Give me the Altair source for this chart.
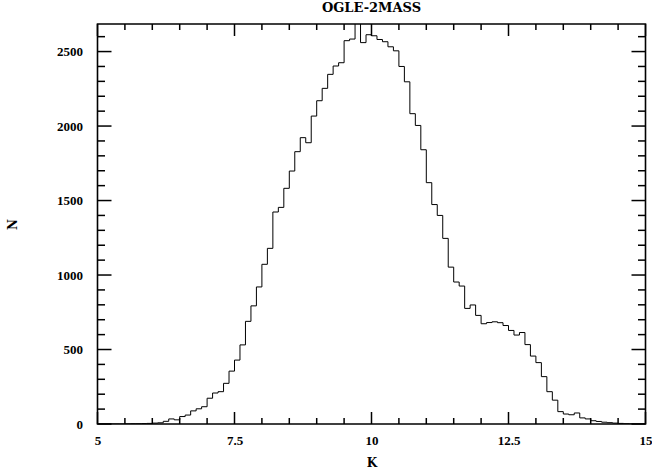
import altair as alt
import pandas as pd

# ---- data -------------------------------------------------------------
# histogram of K magnitudes, bins 0.1 mag wide from 5.0 to 15.0
bin_left = [round(5.0 + 0.1 * i, 1) for i in range(100)]
counts = [
    0, 0, 0, 0, 0, 1, 2, 2, 3, 4,                      # 5.0 - 5.9
    6, 8, 18, 34, 28, 50, 60, 88, 102, 116,            # 6.0 - 6.9
    173, 208, 217, 273, 355, 429, 531, 689, 793, 920,  # 7.0 - 7.9
    1072, 1179, 1423, 1454, 1582, 1698, 1828, 1922, 1888, 2067,  # 8.0 - 8.9
    2170, 2253, 2347, 2403, 2425, 2573, 2584, 2720, 2560, 2613,  # 9.0 - 9.9
    2606, 2581, 2566, 2532, 2505, 2400, 2297, 2083, 2004, 1841,  # 10.0 - 10.9
    1620, 1473, 1400, 1246, 1053, 953, 926, 776, 799, 729,       # 11.0 - 11.9
    673, 681, 686, 680, 661, 628, 597, 614, 533, 456,            # 12.0 - 12.9
    412, 318, 217, 160, 83, 67, 62, 74, 41, 34,                  # 13.0 - 13.9
    22, 17, 12, 9, 6, 4, 2, 1, 0, 0,                             # 14.0 - 14.9
]
x_edge_end = 15.0

x_label_values = [5, 7.5, 10, 12.5, 15]
x_major_ticks = [5, 7.5, 10, 12.5, 15]
x_minor_ticks = [5.5, 6, 6.5, 7, 8, 8.5, 9, 9.5, 10.5, 11, 11.5, 12,
                 13, 13.5, 14, 14.5]
y_label_values = [0, 500, 1000, 1500, 2000, 2500]
y_major_ticks = [0, 500, 1000, 1500, 2000, 2500]
y_minor_ticks = [100, 200, 300, 400, 600, 700, 800, 900, 1100, 1200, 1300,
                 1400, 1600, 1700, 1800, 1900, 2100, 2200, 2300, 2400, 2600]

title_text = "OGLE-2MASS"
x_title = "K"
y_title = "N"

# ---- layout -----------------------------------------------------------
W, H = 548, 400
FONT = "Liberation Serif"
TFONT = "DejaVu Serif"

hist = pd.DataFrame({"K": bin_left + [x_edge_end], "N": counts + [0]})

xscale = alt.Scale(domain=[5, 15], nice=False, zero=False)
yscale = alt.Scale(domain=[0, 2685], nice=False, zero=True)

x_axis = alt.Axis(
    values=x_label_values, labelExpr="'' + datum.value", ticks=False,
    tickSize=0, domain=False,
    grid=False, labelFont=FONT, labelFontSize=13, labelFontWeight="bold",
    labelColor="black", labelPadding=10, labelFlush=False, labelOverlap=False,
    labelBound=False,
    title=x_title, titleFont=TFONT, titleFontSize=12, titleFontWeight="bold",
    titleColor="black", titleY=38, titleBaseline="middle",
)
y_axis = alt.Axis(
    values=y_label_values, format="d", ticks=False, tickSize=0, domain=False,
    grid=False, labelFont=FONT, labelFontSize=13, labelFontWeight="bold",
    labelColor="black", labelPadding=15, labelFlush=False, labelOverlap=False,
    labelBound=False,
    title=y_title, titleFont=TFONT, titleFontSize=12, titleFontWeight="bold",
    titleColor="black", titleX=-85, titleY=H / 2, titleBaseline="middle",
    titleAlign="center",
)

line = alt.Chart(hist).mark_line(
    interpolate="step-after", color="black", strokeWidth=1.0, clip=True
).encode(
    x=alt.X("K:Q", scale=xscale, axis=x_axis),
    y=alt.Y("N:Q", scale=yscale, axis=y_axis),
)


def xticks(vals, y0, y1):
    return alt.Chart(pd.DataFrame({"K": vals})).mark_rule(
        color="black", strokeWidth=1.5
    ).encode(
        x=alt.X("K:Q", scale=xscale, axis=x_axis),
        y=alt.value(y0), y2=alt.value(y1),
    )


def yticks(vals, x0, x1):
    return alt.Chart(pd.DataFrame({"N": vals})).mark_rule(
        color="black", strokeWidth=1.5
    ).encode(
        y=alt.Y("N:Q", scale=yscale, axis=y_axis),
        x=alt.value(x0), x2=alt.value(x1),
    )


layers = [
    line,
    xticks(x_major_ticks, H, H - 12),
    xticks(x_minor_ticks, H, H - 6),
    xticks(x_major_ticks, 0, 12),
    xticks(x_minor_ticks, 0, 6),
    yticks(y_major_ticks, 0, 14),
    yticks(y_minor_ticks, 0, 7.5),
    yticks(y_major_ticks, W, W - 14),
    yticks(y_minor_ticks, W, W - 7.5),
]

chart = alt.layer(*layers).properties(
    width=W,
    height=H,
    title=alt.TitleParams(
        title_text, font=TFONT, fontSize=13, fontWeight="bold", color="black",
        offset=8, anchor="middle",
    ),
    autosize=alt.AutoSizeParams(type="none"),
    padding={"left": 97.5, "top": 24, "right": 6.5, "bottom": 48},
    background="white",
).configure_view(
    stroke="black", strokeWidth=1.6
)

chart.save("out.html", embed_options={"renderer": "svg", "actions": False})
